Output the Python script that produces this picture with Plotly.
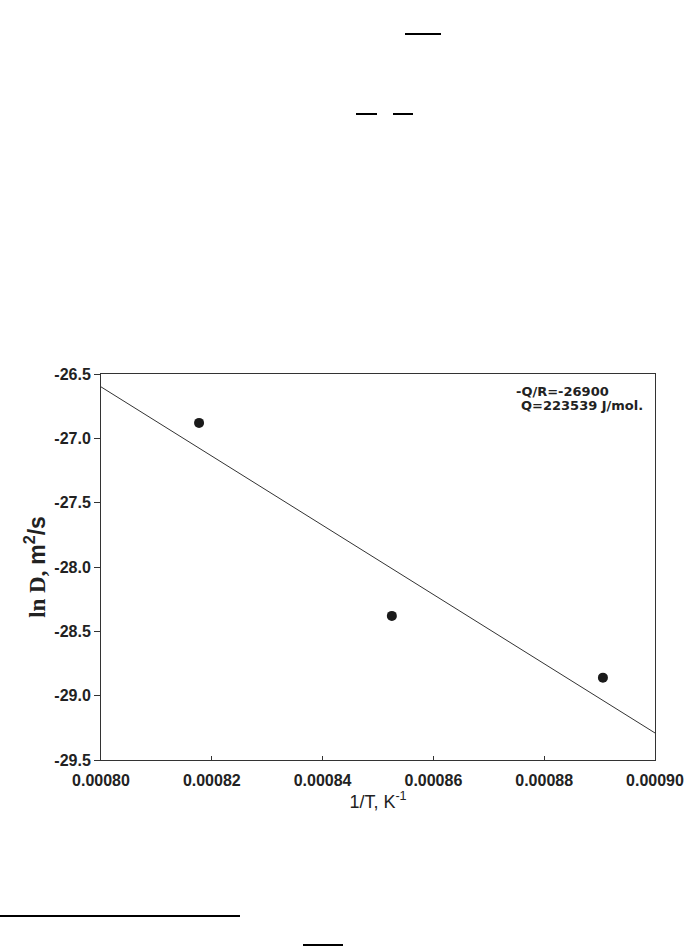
import plotly.graph_objects as go

# Data
inv_T = [0.0008177, 0.0008525, 0.0008906]
ln_D = [-26.88, -28.38, -28.86]

fit_x = [0.00080, 0.00090]
fit_y = [-26.60, -29.29]

x_ticks = [0.00080, 0.00082, 0.00084, 0.00086, 0.00088, 0.00090]
x_tick_labels = ["0.00080", "0.00082", "0.00084", "0.00086", "0.00088", "0.00090"]
y_ticks = [-26.5, -27.0, -27.5, -28.0, -28.5, -29.0, -29.5]
y_tick_labels = ["-26.5", "-27.0", "-27.5", "-28.0", "-28.5", "-29.0", "-29.5"]

W, H = 695, 946
L, R, T, B = 101, 40, 374, 186
PW, PH = W - L - R, H - T - B

def px(x):
    return (x - L) / PW

def py(y):
    return (H - B - y) / PH

fig = go.Figure()
fig.add_trace(go.Scatter(x=fit_x, y=fit_y, mode="lines",
                         line=dict(color="#333333", width=1), showlegend=False))
fig.add_trace(go.Scatter(x=inv_T, y=ln_D, mode="markers",
                         marker=dict(size=10, color="#1a1a1a", line=dict(width=0)),
                         showlegend=False))

tickfont = dict(family="Arial, Liberation Sans, sans-serif", size=16, color="#222222")

fig.update_layout(
    width=W, height=H,
    margin=dict(l=L, r=R, t=T, b=B, pad=0),
    paper_bgcolor="white", plot_bgcolor="white",
    xaxis=dict(range=[0.00080, 0.00090], tickvals=x_ticks,
               ticktext=["<b>%s</b>" % t for t in x_tick_labels],
               showline=True, linecolor="#333333", linewidth=1, mirror=True,
               ticks="inside", ticklen=4, tickcolor="#333333", showgrid=False, zeroline=False,
               tickfont=tickfont, ticklabelstandoff=6,
               title=dict(text="1/T, K<sup>-1</sup>", standoff=4,
                          font=dict(family="Arial, Liberation Sans, sans-serif", size=18, color="#222222"))),
    yaxis=dict(range=[-29.5, -26.5], tickvals=y_ticks,
               ticktext=["<b>%s</b>" % t for t in y_tick_labels],
               showline=True, linecolor="#333333", linewidth=1, mirror=True,
               ticks="outside", ticklen=6, tickcolor="#333333", showgrid=False, zeroline=False,
               tickfont=tickfont, ticklabelstandoff=0,
               title=dict(text="<b>ln D, <span style='font-family:Arial'>m<sup>2</sup>/s</span></b>", standoff=2,
                          font=dict(family="Liberation Serif, Times New Roman, serif", size=23, color="#222222"))),
    font=dict(family="Arial, Liberation Sans, sans-serif", color="#222222"),
)

annfont = dict(family="DejaVu Sans, Arial, sans-serif", size=13, color="#222222")
fig.add_annotation(x=px(514), y=py(391), xref="paper", yref="paper", xanchor="left", yanchor="middle",
                   text="<b>-Q/R=-26900</b>", showarrow=False, font=annfont)
fig.add_annotation(x=px(519), y=py(405), xref="paper", yref="paper", xanchor="left", yanchor="middle",
                   text="<b>Q=223539 J/mol.</b>", showarrow=False, font=annfont)

# Page artefacts (fraction bars and footnote rule from the scanned page)
for x0, x1, y in [(405, 441, 34), (356, 377, 114), (393, 413, 114), (0, 240, 916), (303, 343, 945)]:
    fig.add_shape(type="line", xref="paper", yref="paper", x0=px(x0), x1=px(x1), y0=py(y), y1=py(y),
                  line=dict(color="black", width=2))

fig.write_html("out.html", config={"displayModeBar": False},
               post_script="document.body.style.margin='0';document.body.style.overflow='hidden';")
